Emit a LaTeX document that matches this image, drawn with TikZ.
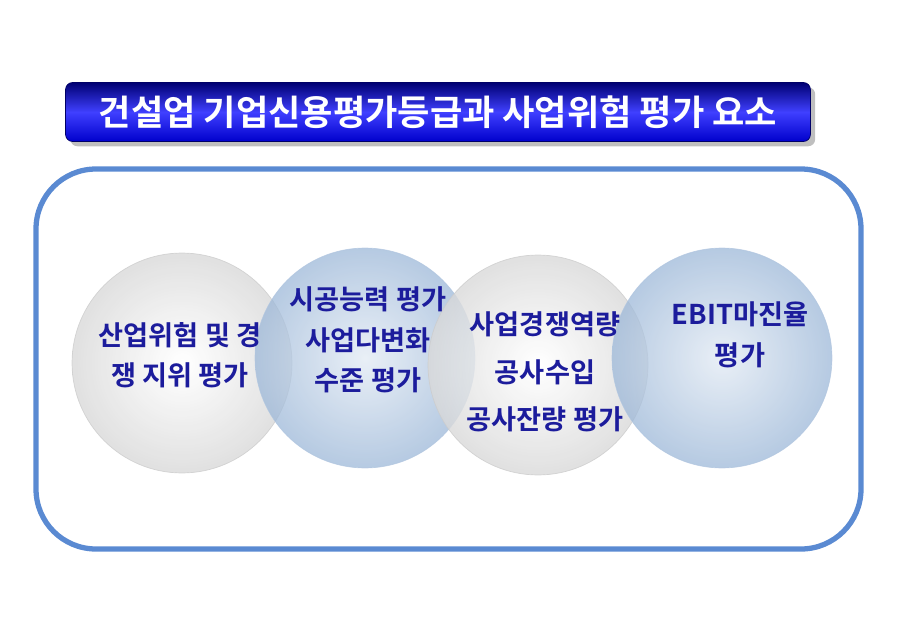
\documentclass[tikz,border=0pt]{standalone}
\usepackage{fontspec}
\setmainfont{Noto Sans CJK KR}[BoldFont={Noto Sans CJK KR Bold}]
\usetikzlibrary{shadows}
\definecolor{navy}{HTML}{1C1C9C}
\definecolor{frameblue}{HTML}{5A8AD2}
\definecolor{steel}{HTML}{9DB8D8}
\begin{document}
\begin{tikzpicture}[
		x = 0.02cm, y = -0.02cm,
		greyball/.style = {circle, minimum size = 4.4cm, inner sep=0, draw=gray!40,
			inner color = white, outer color = gray!30, opacity = 0.8},
		blueball/.style = {circle, minimum size = 4.4cm, inner sep=0, draw=steel!80,
			inner color = steel!30, outer color = steel, opacity = 0.75},
		lbl/.style = {text = navy, font = \bfseries\fontsize{15.5}{23}\selectfont, align = center}
	]

	\useasboundingbox (0,0) rectangle (900,622);

	\node[rounded corners = 4pt, minimum width = 14.9cm, minimum height = 1.18cm,
		top color = blue!45!black, bottom color = blue!80!black, middle color = blue!75!white,
		draw = blue!40!black, drop shadow,
		text = white, font = \bfseries\fontsize{20}{24}\selectfont]
		(title) at (438,112) {건설업 기업신용평가등급과 사업위험 평가 요소};

	\draw[frameblue, line width = 3pt, rounded corners = 1.2cm] (36,169) rectangle (861,549);

	\node[greyball] (risk) at (182,363) {};
	\node[blueball] (build) at (365,358) {};
	\node[greyball] (comp) at (538,365) {};
	\node[blueball] (ebit) at (722,358) {};

	\node[lbl] (risktxt) at (180,355) {산업위험 및 경\\쟁 지위 평가};
	\node[lbl] (buildtxt) at (368,340) {시공능력 평가\\사업다변화\\수준 평가};
	\node[lbl] (comptxt) at (545,372) {사업경쟁역량\\[4pt]공사수입\\[4pt]공사잔량 평가};
	\node[lbl] (ebittxt) at (740,335) {EBIT마진율\\평가};

\end{tikzpicture}
\end{document}
